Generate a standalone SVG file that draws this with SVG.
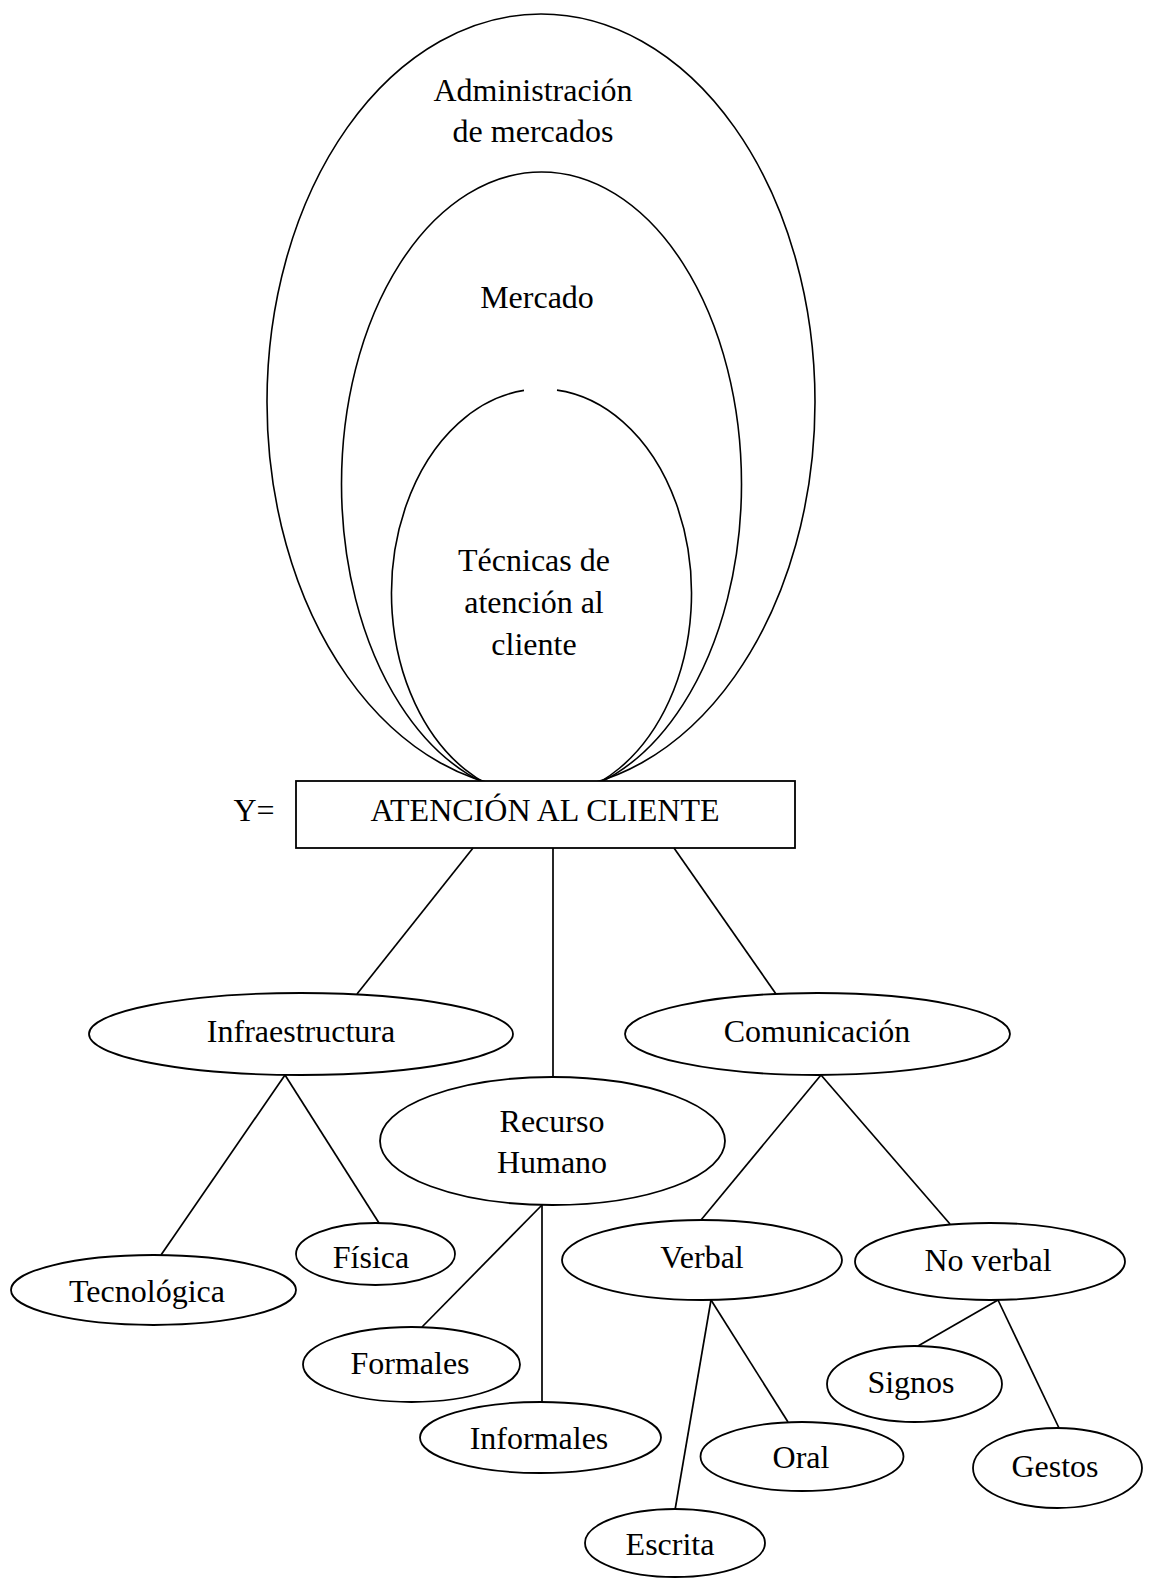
<svg xmlns="http://www.w3.org/2000/svg" width="1151" height="1578" viewBox="0 0 1151 1578">
<style>
.sh{fill:#fff;stroke:#000;stroke-width:1.8}
.ring{fill:none;stroke:#000;stroke-width:1.6}
.ln{stroke:#000;stroke-width:1.7;fill:none}
text{font-family:"Liberation Serif","Times New Roman",serif;font-size:32px;fill:#000;text-anchor:middle}
</style>
<rect width="1151" height="1578" fill="#fff"/>
<g id="admin-mercados">
<ellipse class="ring" cx="541" cy="402" rx="274" ry="388"/>
<text x="533" y="101">Administración</text>
<text x="533" y="142">de mercados</text>
</g>
<g id="mercado">
<ellipse class="ring" cx="541.5" cy="484" rx="200" ry="312"/>
<text x="537" y="308">Mercado</text>
</g>
<g id="tecnicas">
<path class="ring" d="M524,390.4 A150,204.5 0 1 0 557,390.1"/>
<text x="534" y="571">Técnicas de</text>
<text x="534" y="613">atención al</text>
<text x="534" y="655">cliente</text>
</g>
<g id="y-label"><text x="254" y="821">Y=</text></g>
<g id="atencion">
<rect class="sh" x="296" y="781" width="499" height="67" stroke-width="2"/>
<text x="545" y="821">ATENCIÓN AL CLIENTE</text>
</g>
<g id="connectors">
<line class="ln" x1="473" y1="848" x2="357" y2="994"/>
<line class="ln" x1="553" y1="848" x2="553" y2="1077"/>
<line class="ln" x1="674" y1="848" x2="776" y2="994"/>
<line class="ln" x1="285" y1="1075" x2="161" y2="1255"/>
<line class="ln" x1="285" y1="1075" x2="379" y2="1223"/>
<line class="ln" x1="542" y1="1205" x2="422" y2="1327"/>
<line class="ln" x1="542" y1="1205" x2="542" y2="1402"/>
<line class="ln" x1="821" y1="1075" x2="701" y2="1220"/>
<line class="ln" x1="821" y1="1075" x2="950" y2="1224"/>
<line class="ln" x1="711" y1="1300" x2="675" y2="1510"/>
<line class="ln" x1="711" y1="1300" x2="788" y2="1422"/>
<line class="ln" x1="998" y1="1300" x2="918" y2="1346"/>
<line class="ln" x1="998" y1="1300" x2="1059" y2="1428"/>
</g>
<g id="infraestructura">
<ellipse class="sh" cx="301" cy="1034" rx="212" ry="41"/>
<text x="301" y="1042">Infraestructura</text>
</g>
<g id="comunicacion">
<ellipse class="sh" cx="817.5" cy="1034" rx="192.5" ry="41"/>
<text x="817" y="1042">Comunicación</text>
</g>
<g id="recurso-humano">
<ellipse class="sh" cx="552.5" cy="1141" rx="172.5" ry="64"/>
<text x="552" y="1132">Recurso</text>
<text x="552" y="1173">Humano</text>
</g>
<g id="tecnologica">
<ellipse class="sh" cx="153.5" cy="1290" rx="142.5" ry="35"/>
<text x="147" y="1302">Tecnológica</text>
</g>
<g id="fisica">
<ellipse class="sh" cx="375.5" cy="1254" rx="79.5" ry="31"/>
<text x="371" y="1268">Física</text>
</g>
<g id="formales">
<ellipse class="sh" cx="411.5" cy="1364.5" rx="108.5" ry="37.5"/>
<text x="410" y="1374">Formales</text>
</g>
<g id="informales">
<ellipse class="sh" cx="540.5" cy="1437.5" rx="120.5" ry="35.5"/>
<text x="539" y="1449">Informales</text>
</g>
<g id="verbal">
<ellipse class="sh" cx="702" cy="1260" rx="140" ry="40"/>
<text x="702" y="1268">Verbal</text>
</g>
<g id="no-verbal">
<ellipse class="sh" cx="990" cy="1261.5" rx="135" ry="38.5"/>
<text x="988" y="1271">No verbal</text>
</g>
<g id="signos">
<ellipse class="sh" cx="914.5" cy="1384" rx="87.5" ry="38"/>
<text x="911" y="1393">Signos</text>
</g>
<g id="gestos">
<ellipse class="sh" cx="1057.5" cy="1468" rx="84.5" ry="40"/>
<text x="1055" y="1477">Gestos</text>
</g>
<g id="oral">
<ellipse class="sh" cx="802" cy="1456.5" rx="101.5" ry="34.5"/>
<text x="801" y="1468">Oral</text>
</g>
<g id="escrita">
<ellipse class="sh" cx="675" cy="1543" rx="90" ry="34"/>
<text x="670" y="1555">Escrita</text>
</g>
</svg>
